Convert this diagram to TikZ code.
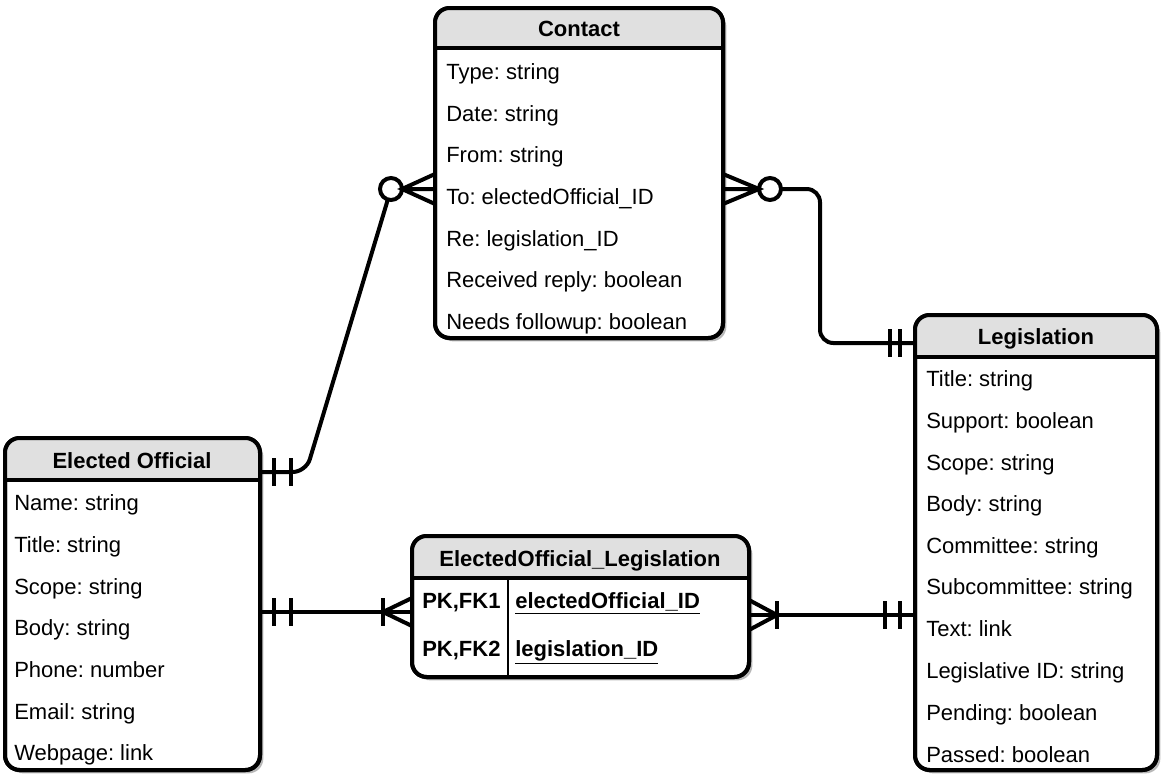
\documentclass[tikz,border=0pt]{standalone}
\usepackage{fontspec}
\setmainfont{Liberation Sans}
\usetikzlibrary{calc,fit,shadows}
\definecolor{headgray}{HTML}{E0E0E0}
\frenchspacing

\begin{document}
\begin{tikzpicture}[x=0.75pt,y=-0.75pt,
    font=\fontsize{16.5}{20}\selectfont,
    table/.style={draw,line width=3pt,rounded corners=11pt,fill=white,inner sep=0pt,outer sep=0pt,
      drop shadow={shadow xshift=2.5pt,shadow yshift=-2.5pt,fill=black!28,opacity=1}},
    title/.style={font=\fontsize{16.5}{20}\selectfont\bfseries,inner sep=0pt,text height=11.8pt,text depth=0pt},
    attr/.style={anchor=west,inner sep=0pt,text height=11.8pt,text depth=0pt},
    key/.style={attr,font=\fontsize{16.5}{20}\selectfont\bfseries},
    rel/.style={line width=3pt},
    ring/.style={circle,draw,line width=3pt,fill=white,minimum size=16.5pt,inner sep=0pt,outer sep=0pt}]
        \useasboundingbox (0,0) rectangle (1165,782);

        % tables
        \node[table,fit={(435,8) (723,338)}](contact){};
        \node[table,fit={(915,315) (1157,770)}](leg){};
        \node[table,fit={(5,438) (260,770)}](eo){};
        \node[table,fit={(412,536) (749,677)}](junc){};

        % grey headers
        \begin{scope}
          \clip[rounded corners=11pt] (contact.north west) rectangle (contact.south east);
          \fill[headgray] (contact.north west) rectangle ($(contact.north east)+(0,40)$);
        \end{scope}
        \begin{scope}
          \clip[rounded corners=11pt] (leg.north west) rectangle (leg.south east);
          \fill[headgray] (leg.north west) rectangle ($(leg.north east)+(0,42)$);
        \end{scope}
        \begin{scope}
          \clip[rounded corners=11pt] (eo.north west) rectangle (eo.south east);
          \fill[headgray] (eo.north west) rectangle ($(eo.north east)+(0,42)$);
        \end{scope}
        \begin{scope}
          \clip[rounded corners=11pt] (junc.north west) rectangle (junc.south east);
          \fill[headgray] (junc.north west) rectangle ($(junc.north east)+(0,42)$);
        \end{scope}
        \draw[rel,rounded corners=11pt] (contact.north west) rectangle (contact.south east);
        \draw[rel,rounded corners=11pt] (leg.north west) rectangle (leg.south east);
        \draw[rel,rounded corners=11pt] (eo.north west) rectangle (eo.south east);
        \draw[rel,rounded corners=11pt] (junc.north west) rectangle (junc.south east);
        \draw[line width=2.5pt] ($(contact.north west)+(0,40)$) -- ($(contact.north east)+(0,40)$);
        \draw[line width=2.5pt] ($(leg.north west)+(0,42)$) -- ($(leg.north east)+(0,42)$);
        \draw[line width=2.5pt] ($(eo.north west)+(0,42)$) -- ($(eo.north east)+(0,42)$);
        \draw[line width=2.5pt] ($(junc.north west)+(0,42)$) -- ($(junc.north east)+(0,42)$);
        \draw[line width=1.2pt] (508,578) -- (508,677);

        % Contact
        \draw (579,29) node[title](ct){Contact};
        \draw (446,72) node[attr](c1){Type: string};
        \draw (446,114) node[attr](c2){Date: string};
        \draw (446,155) node[attr](c3){From: string};
        \draw (446,197) node[attr](c4){To: electedOfficial\_ID};
        \draw (446,239) node[attr](c5){Re: legislation\_ID};
        \draw (446,280) node[attr](c6){Received reply: boolean};
        \draw (446,322) node[attr](c7){Needs followup: boolean};

        % Legislation
        \draw (1036,337) node[title](lt){Legislation};
        \draw (926,379) node[attr](l1){Title: string};
        \draw (926,421) node[attr](l2){Support: boolean};
        \draw (926,463) node[attr](l3){Scope: string};
        \draw (926,504) node[attr](l4){Body: string};
        \draw (926,546) node[attr](l5){Committee: string};
        \draw (926,587) node[attr](l6){Subcommittee: string};
        \draw (926,629) node[attr](l7){Text: link};
        \draw (926,671) node[attr](l8){Legislative ID: string};
        \draw (926,713) node[attr](l9){Pending: boolean};
        \draw (926,755) node[attr](l10){Passed: boolean};

        % Elected Official
        \draw (132,461) node[title](et){Elected Official};
        \draw (14,503) node[attr](e1){Name: string};
        \draw (14,545) node[attr](e2){Title: string};
        \draw (14,587) node[attr](e3){Scope: string};
        \draw (14,628) node[attr](e4){Body: string};
        \draw (14,670) node[attr](e5){Phone: number};
        \draw (14,712) node[attr](e6){Email: string};
        \draw (14,753) node[attr](e7){Webpage: link};

        % ElectedOfficial_Legislation
        \draw (580,559) node[title](jt){ElectedOfficial\_Legislation};
        \draw (422,601) node[key](j1){PK,FK1};
        \draw (515,601) node[key](j2){\underline{electedOfficial\_ID}};
        \draw (422,649) node[key](j3){PK,FK2};
        \draw (515,649) node[key](j4){\underline{legislation\_ID}};

        % Elected Official -- Contact
        \coordinate (p1) at ($(eo.north east)+(0,34)$);
        \coordinate (p2) at ($(contact.north west)+(0,181)$);
        \draw (391,189) node[ring](o1){};
        \draw[rel,rounded corners=10pt] (p1) -- (306,472) -- (o1);
        \draw[rel] ($(p1)+(14,-14)$) -- ++(0,28) ($(p1)+(31,-14)$) -- ++(0,28);
        \draw[rel] ($(p2)+(0,-15)$) -- (o1.east) -- ($(p2)+(0,15)$) (o1.east) -- (p2);

        % Contact -- Legislation
        \coordinate (p3) at ($(contact.north east)+(0,181)$);
        \coordinate (p4) at ($(leg.north west)+(0,28)$);
        \draw (770,189) node[ring](o2){};
        \draw[rel] ($(p3)+(0,-15)$) -- (o2.west) -- ($(p3)+(0,15)$) (p3) -- (o2.west);
        \draw[rel,rounded corners=10pt] (o2) -- (820,189) -- (820,343) -- (p4);
        \draw[rel] ($(p4)+(-25,-14)$) -- ++(0,28) ($(p4)+(-15,-14)$) -- ++(0,28);

        % Elected Official -- ElectedOfficial_Legislation
        \coordinate (p5) at ($(eo.north east)+(0,174)$);
        \coordinate (p6) at ($(junc.north west)+(0,76)$);
        \draw[rel] (p5) -- (p6);
        \draw[rel] ($(p5)+(14,-14)$) -- ++(0,28) ($(p5)+(31,-14)$) -- ++(0,28);
        \draw[rel] ($(p6)+(-29,-14)$) -- ++(0,28);
        \draw[rel] ($(p6)+(0,-14)$) -- ($(p6)+(-29,0)$) -- ($(p6)+(0,14)$);

        % ElectedOfficial_Legislation -- Legislation
        \coordinate (p7) at ($(junc.north east)+(0,79)$);
        \coordinate (p8) at ($(leg.north west)+(0,300)$);
        \draw[rel] (p7) -- (p8);
        \draw[rel] ($(p7)+(28,-14)$) -- ++(0,28);
        \draw[rel] ($(p7)+(0,-15)$) -- ($(p7)+(28,0)$) -- ($(p7)+(0,15)$);
        \draw[rel] ($(p8)+(-30,-14)$) -- ++(0,28) ($(p8)+(-15,-14)$) -- ++(0,28);
      \end{tikzpicture}
\end{document}
